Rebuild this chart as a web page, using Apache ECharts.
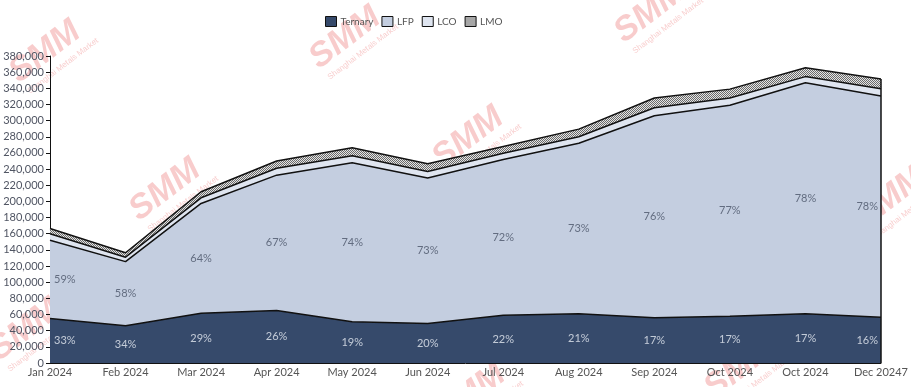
<!DOCTYPE html>
<html><head><meta charset="utf-8">
<script src="https://cdn.jsdelivr.net/npm/echarts@6/dist/echarts.min.js"></script>
<style>html,body{margin:0;padding:0;background:#fff}#c{width:911px;height:387px}</style>
</head><body><div id="c"></div>
<script>
const categories = ['Jan 2024','Feb 2024','Mar 2024','Apr 2024','May 2024','Jun 2024','Jul 2024','Aug 2024','Sep 2024','Oct 2024','Oct 2024','Dec 20247'];
const ternary = [55000,46000,61500,65000,51000,49000,59000,61000,56000,58000,61000,56500];
const lfp     = [97000,79500,136000,167500,197000,180000,193000,211000,250000,261000,286000,274000];
const lco     = [8000,5500,7000,8500,8500,8000,7500,8000,10000,9000,7500,9000];
const lmo     = [6500,5500,7500,9000,10000,9500,8500,9500,12000,11000,11000,12000];
const ternaryPct = ['33%','34%','29%','26%','19%','20%','22%','21%','17%','17%','17%','16%'];
const lfpPct     = ['59%','58%','64%','67%','74%','73%','72%','73%','76%','77%','78%','78%'];

const FONT = 'Lato';
const C_T = '#364a6b', C_LFP = '#c4cee0', C_LCO = '#dfe5f0';

const cv = document.createElement('canvas'); cv.width = 2; cv.height = 2;
const cx = cv.getContext('2d');
cx.fillStyle = '#e4e4e4'; cx.fillRect(0,0,2,2);
cx.fillStyle = '#6a6a6a'; cx.fillRect(0,0,1,1); cx.fillRect(1,1,1,1);
const hatch = {image: cv, repeat: 'repeat'};

const wmSpots = [[45,52],[345,38],[165,190],[468,138],[650,12],[778,105],[292,282],[592,280],[890,198],[25,330],[740,368],[470,395]];
const wmGraphics = wmSpots.map(p=>({
  type:'group', x:p[0], y:p[1], rotation:0.65, silent:true, z:100,
  children:[
    {type:'text', x:0, y:0, style:{text:'SMM', font:'bold italic 34px "Liberation Sans"', fill:'rgba(232,85,85,0.3)', textAlign:'center', textVerticalAlign:'middle'}},
    {type:'text', x:6, y:22, style:{text:'Shanghai Metals Market', font:'8px "Liberation Sans"', fill:'rgba(232,85,85,0.3)', textAlign:'center', textVerticalAlign:'middle'}}
  ]
}));

const n = categories.length;
const last = n - 1;
function align(i){ return i===0 ? 'left' : (i===last ? 'right' : 'center'); }
function off(i){ return i===0 ? [4,0] : (i===last ? [-3,0] : [0,0]); }
const tMid = ternary.map((v,i)=>({value:[i, v/2], label:{align:align(i), offset:off(i)}}));
const lMid = lfp.map((v,i)=>({value:[i, ternary[i]+v/2], label:{align:align(i), offset:off(i)}}));
const total = ternary.map((v,i)=>v+lfp[i]+lco[i]+lmo[i]);

const chart = echarts.init(document.getElementById('c'));
const lineStyle = {color:'#111', width:1.5};
chart.setOption({
  animation:false,
  textStyle:{fontFamily:FONT},
  graphic:wmGraphics,
  legend:{
    top:16, left:325, padding:0, icon:'rect', itemWidth:11, itemHeight:10, itemGap:8,
    textStyle:{fontSize:10, color:'#555', fontFamily:FONT, padding:[0,0,0,-1]},
    data:[
      {name:'Ternary', itemStyle:{color:C_T, borderColor:'#111', borderWidth:1}, lineStyle:{width:0}},
      {name:'LFP', itemStyle:{color:C_LFP, borderColor:'#111', borderWidth:1}, lineStyle:{width:0}},
      {name:'LCO', itemStyle:{color:C_LCO, borderColor:'#111', borderWidth:1}, lineStyle:{width:0}},
      {name:'LMO', itemStyle:{color:hatch, borderColor:'#111', borderWidth:1}, lineStyle:{width:0}}
    ]
  },
  grid:{left:50, right:26, top:56, bottom:24},
  xAxis:{
    type:'category', boundaryGap:false, data:categories,
    axisLine:{lineStyle:{color:'#111'}}, axisTick:{show:false},
    axisLabel:{color:'#555', fontSize:11, margin:4, fontFamily:FONT}
  },
  yAxis:{
    type:'value', min:0, max:380000, interval:20000,
    axisLine:{show:true, lineStyle:{color:'#111'}},
    axisTick:{show:true, length:4, lineStyle:{color:'#111'}},
    splitLine:{show:false},
    axisLabel:{color:'#505563', fontSize:11, margin:6, fontFamily:FONT,
      formatter:v=>v.toLocaleString('en-US')}
  },
  series:[
    {name:'Ternary', type:'line', stack:'a', data:ternary, symbol:'none', lineStyle,
      itemStyle:{color:C_T}, areaStyle:{color:C_T, opacity:1}},
    {name:'LFP', type:'line', stack:'a', data:lfp, symbol:'none', lineStyle,
      itemStyle:{color:C_LFP}, areaStyle:{color:C_LFP, opacity:1}},
    {name:'LCO', type:'line', stack:'a', data:lco, symbol:'none', lineStyle,
      itemStyle:{color:C_LCO}, areaStyle:{color:C_LCO, opacity:1}},
    {name:'LMO', type:'line', stack:'a', data:lmo, symbol:'none', lineStyle,
      itemStyle:{color:'#aaa'}, areaStyle:{color:hatch, opacity:1},
      markLine:{symbol:'none', silent:true, label:{show:false},
        lineStyle:{color:'#111', width:1.5, type:'solid'},
        data:[[{coord:[last,0]},{coord:[last,total[last]]}]]}},
    {type:'scatter', data:tMid, symbolSize:0, silent:true, z:10,
      label:{show:true, position:'inside', color:'#e6ebf2', fontSize:11, fontFamily:FONT,
        formatter:p=>ternaryPct[p.dataIndex]}},
    {type:'scatter', data:lMid, symbolSize:0, silent:true, z:10,
      label:{show:true, position:'inside', color:'#4a5468', fontSize:11, fontFamily:FONT,
        formatter:p=>lfpPct[p.dataIndex]}}
  ]
});
</script></body></html>
